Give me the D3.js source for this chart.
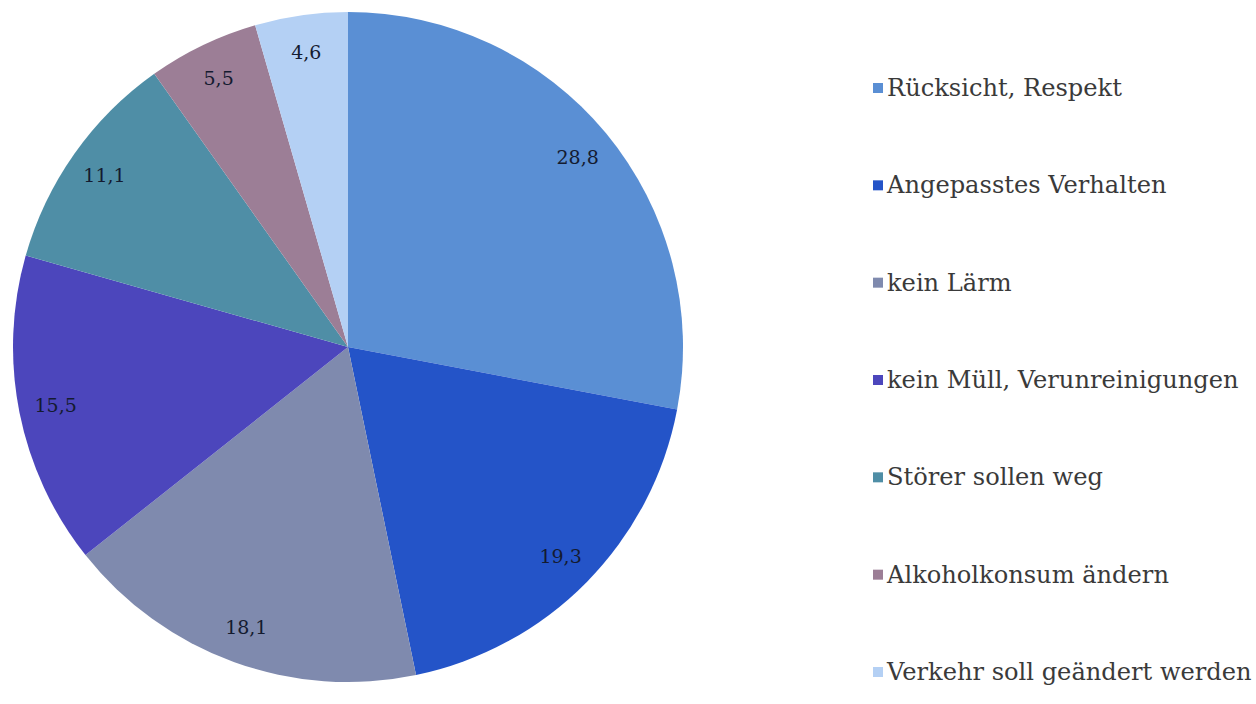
<!DOCTYPE html>
<html>
<head>
<meta charset="utf-8">
<script src="https://cdn.jsdelivr.net/npm/d3@7"></script>
<style>
  html, body { margin: 0; padding: 0; background: #ffffff; }
  svg { display: block; }
</style>
</head>
<body>
<script>
// Wünsche an das Verhalten im öffentlichen Raum (Anteile in %)
const categories = [
  "Rücksicht, Respekt",
  "Angepasstes Verhalten",
  "kein Lärm",
  "kein Müll, Verunreinigungen",
  "Störer sollen weg",
  "Alkoholkonsum ändern",
  "Verkehr soll geändert werden"
];
const values = [28.8, 19.3, 18.1, 15.5, 11.1, 5.5, 4.6];
const colors = ["#5a8fd4", "#2454c8", "#7f8aae", "#4c46bc", "#4f8ea6", "#9c7e96", "#b4d0f4"];

const W = 1256, H = 704;
const cx = 348, cy = 347, R = 335;
const serif = "DejaVu Serif, Liberation Serif, serif";

const svg = d3.select("body").append("svg")
  .attr("width", W).attr("height", H);

const data = categories.map((c, i) => ({ name: c, value: values[i], color: colors[i] }));

const pie = d3.pie().value(d => d.value).sort(null);
const arc = d3.arc().innerRadius(0).outerRadius(R);
const labelArc = d3.arc().innerRadius(R * 0.89).outerRadius(R * 0.89);

const g = svg.append("g").attr("transform", `translate(${cx},${cy})`);
const arcs = pie(data);

g.selectAll("path.slice").data(arcs).enter().append("path")
  .attr("class", "slice")
  .attr("d", arc)
  .attr("fill", d => d.data.color)
  .attr("stroke", "none");

const fmt = v => d3.format(".1f")(v).replace(".", ",");

g.selectAll("text.val").data(arcs).enter().append("text")
  .attr("class", "val")
  .attr("transform", d => `translate(${labelArc.centroid(d)})`)
  .attr("text-anchor", "middle")
  .attr("dominant-baseline", "central")
  .style("font-family", serif)
  .attr("font-size", 19)
  .attr("fill", "#141b30")
  .text(d => fmt(d.data.value));

// Legende
const legendY = d3.scalePoint().domain(categories).range([88, 672]);
const lg = svg.append("g");
const items = lg.selectAll("g.item").data(data).enter().append("g")
  .attr("class", "item")
  .attr("transform", d => `translate(873,${legendY(d.name)})`);

items.append("rect")
  .attr("x", 0).attr("y", -5).attr("width", 10).attr("height", 10)
  .attr("fill", d => d.color);

const texts = items.append("text")
  .attr("x", 14).attr("y", 0)
  .attr("dominant-baseline", "central")
  .style("font-family", serif)
  .attr("font-size", 20)
  .attr("fill", "#3a3a3a")
  .text(d => d.name);

// Schriftgröße so wählen, dass der längste Eintrag bis zum rechten Rand reicht
let maxW = 0;
texts.each(function () { maxW = Math.max(maxW, this.getComputedTextLength()); });
const fs = 20 * 365 / maxW;
texts.attr("font-size", fs);
</script>
</body>
</html>
